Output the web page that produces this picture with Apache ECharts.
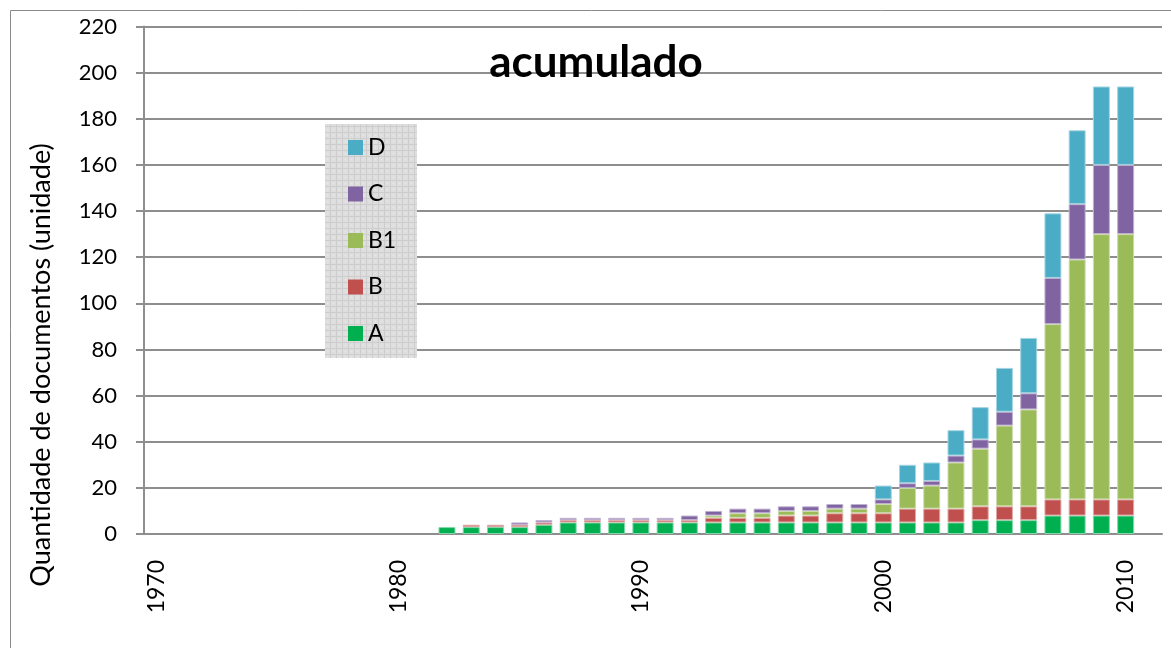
<!DOCTYPE html>
<html>
<head>
<meta charset="utf-8">
<title>acumulado</title>
<script src="https://cdn.jsdelivr.net/npm/echarts@6/dist/echarts.min.js"></script>
<style>
	html, body { margin: 0; padding: 0; background: #fff; }
	#chart_1 { width: 1171px; height: 648px; }
</style>
</head>
<body>
<div id="chart_1"></div>
<script>
// anos do eixo x
var anos = ['1970', '1971', '1972', '1973', '1974', '1975', '1976', '1977', '1978', '1979',
	'1980', '1981', '1982', '1983', '1984', '1985', '1986', '1987', '1988', '1989',
	'1990', '1991', '1992', '1993', '1994', '1995', '1996', '1997', '1998', '1999',
	'2000', '2001', '2002', '2003', '2004', '2005', '2006', '2007', '2008', '2009',
	'2010', '2011'];

// valores de 1982 a 2010
var primeiroAno = '1982';
var serieA  = [3, 3, 3, 3, 4, 5, 5, 5, 5, 5, 5, 5, 5, 5, 5, 5, 5, 5, 5, 5, 5, 5, 6, 6, 6, 8, 8, 8, 8];
var serieB  = [0, 1, 1, 1, 1, 1, 1, 1, 1, 1, 1, 2, 2, 2, 3, 3, 4, 4, 4, 6, 6, 6, 6, 6, 6, 7, 7, 7, 7];
var serieB1 = [0, 0, 0, 0, 0, 0, 0, 0, 0, 0, 0, 1, 2, 2, 2, 2, 2, 2, 4, 9, 10, 20, 25, 35, 42, 76, 104, 115, 115];
var serieC  = [0, 0, 0, 1, 1, 1, 1, 1, 1, 1, 2, 2, 2, 2, 2, 2, 2, 2, 2, 2, 2, 3, 4, 6, 7, 20, 24, 30, 30];
var serieD  = [0, 0, 0, 0, 0, 0, 0, 0, 0, 0, 0, 0, 0, 0, 0, 0, 0, 0, 6, 8, 8, 11, 14, 19, 24, 28, 32, 34, 34];

var nomes = ['A', 'B', 'B1', 'C', 'D'];
var cores = ['#00B050', '#C0504D', '#9BBB59', '#8064A2', '#4BACC6'];
var bordas = ['#80d8a8', '#e0a8a6', '#cddcac', '#bfb1d0', '#a5d5e2'];

var eixoY = { min: 0, max: 220, intervalo: 20 };

echart_1();

function porAno(valores) {
	var inicio = anos.indexOf(primeiroAno);
	return anos.map(function(ano, i) {
		var v = valores[i - inicio];
		return v ? v : null;
	});
}

// fundo da legenda com textura
function texturaLegenda() {
	var c = document.createElement('canvas');
	c.width = 6;
	c.height = 6;
	var ctx = c.getContext('2d');
	ctx.fillStyle = '#dedede';
	ctx.fillRect(0, 0, 6, 6);
	ctx.fillStyle = '#cdcdcd';
	ctx.fillRect(0, 0, 6, 1);
	ctx.fillRect(0, 0, 1, 6);
	ctx.fillStyle = '#e9e9e9';
	ctx.fillRect(3, 3, 1, 1);
	return c;
}

function echart_1() {
	var myChart = echarts.init(document.getElementById('chart_1'));
	var dados = [serieA, serieB, serieB1, serieC, serieD];
	var series = nomes.map(function(nome, i) {
		return {
			name: nome,
			type: 'bar',
			stack: 'total',
			barWidth: '70%',
			itemStyle: {
				color: cores[i],
				borderColor: bordas[i],
				borderWidth: 1
			},
			data: porAno(dados[i])
		};
	});

	var corLinha = '#8e8e8e';
	var option = {
		animation: false,
		textStyle: { fontFamily: 'Lato' },
		grid: {
			left: 144,
			right: 9,
			top: 26.5,
			bottom: 114
		},
		legend: {
			data: ['D', 'C', 'B1', 'B', 'A'],
			orient: 'vertical',
			left: 343,
			top: 131,
			itemWidth: 15,
			itemHeight: 15,
			itemGap: 23.5,
			icon: 'rect',
			z: 10,
			selectedMode: false,
			itemStyle: { borderWidth: 0 },
			textStyle: {
				color: '#000',
				fontSize: 23,
				fontFamily: 'Lato'
			}
		},
		graphic: [{
			type: 'rect',
			z: 5,
			shape: { x: 10.5, y: 10.5, width: 1300, height: 800 },
			style: { fill: 'none', stroke: '#8a8a8a', lineWidth: 1 },
			silent: true
		}, {
			type: 'rect',
			z: 5,
			shape: { x: 325, y: 124, width: 92, height: 234 },
			style: { fill: { image: texturaLegenda(), repeat: 'repeat' } },
			silent: true
		}, {
			type: 'text',
			z: 10,
			x: 596,
			y: 63,
			style: {
				text: 'acumulado',
				fill: '#000',
				font: 'bold 44px Lato',
				align: 'center',
				verticalAlign: 'middle'
			}
		}, {
			type: 'text',
			z: 10,
			x: 41,
			y: 365,
			rotation: Math.PI / 2,
			style: {
				text: 'Quantidade de documentos (unidade)',
				fill: '#000',
				font: '27px Lato',
				align: 'center',
				verticalAlign: 'middle'
			}
		}],
		xAxis: {
			type: 'category',
			data: anos,
			boundaryGap: true,
			axisLine: { lineStyle: { color: corLinha, width: 2 } },
			axisTick: {
				interval: 9,
				length: 8,
				lineStyle: { color: corLinha, width: 2 }
			},
			axisLabel: {
				interval: 9,
				rotate: 90,
				margin: 26,
				color: '#000',
				fontSize: 23,
				fontFamily: 'Lato'
			},
			splitLine: { show: false }
		},
		yAxis: {
			type: 'value',
			min: eixoY.min,
			max: eixoY.max,
			interval: eixoY.intervalo,
			axisLine: { show: true, lineStyle: { color: corLinha, width: 2 } },
			axisTick: { show: true, length: 8, lineStyle: { color: corLinha, width: 2 } },
			axisLabel: {
				margin: 27,
				color: '#000',
				fontSize: 22,
				fontFamily: 'Lato'
			},
			splitLine: { lineStyle: { color: corLinha, width: 2 } }
		},
		series: series
	};
	myChart.setOption(option);
}
</script>
</body>
</html>
